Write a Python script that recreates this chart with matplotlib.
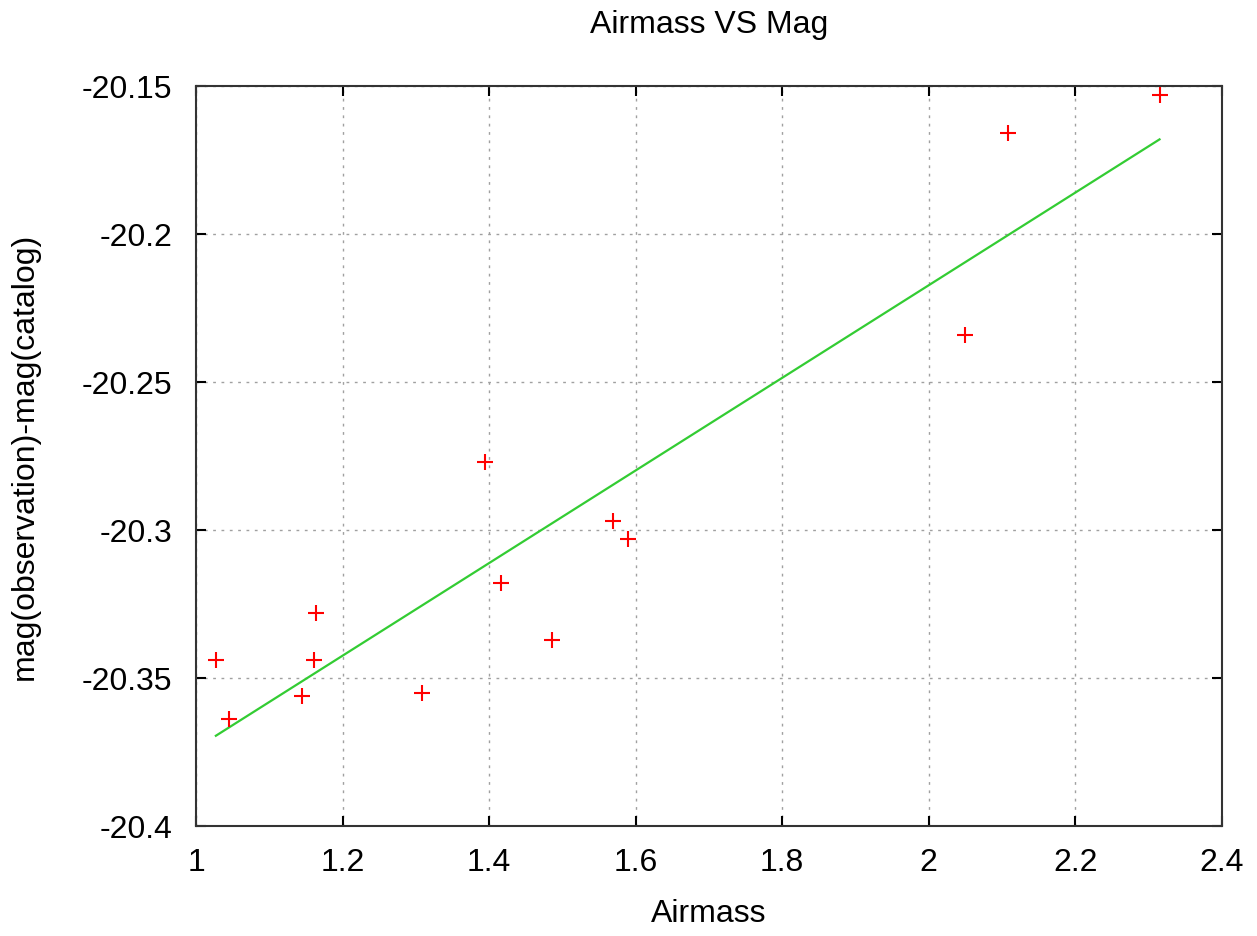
import matplotlib
matplotlib.use("Agg")
import matplotlib.pyplot as plt
from matplotlib.ticker import FuncFormatter

# observed points (airmass, mag difference)
airmass = [1.027, 1.045, 1.145, 1.161, 1.164, 1.309, 1.394, 1.416,
           1.486, 1.569, 1.589, 2.049, 2.108, 2.315]
mag_diff = [-20.344, -20.364, -20.356, -20.344, -20.328, -20.355, -20.277, -20.318,
            -20.337, -20.297, -20.303, -20.234, -20.166, -20.153]

# linear fit drawn across the data range
fit_x = [1.027, 2.315]
fit_y = [-20.3695, -20.168]

x_ticks = [1, 1.2, 1.4, 1.6, 1.8, 2, 2.2, 2.4]
y_ticks = [-20.4, -20.35, -20.3, -20.25, -20.2, -20.15]

plt.rcParams['font.family'] = ['Liberation Sans', 'DejaVu Sans']

fig = plt.figure(figsize=(12.57, 9.36), dpi=100)
ax = fig.add_axes([0.156, 0.1175, 0.816, 0.7905])

ax.plot(airmass, mag_diff, linestyle='none', marker='+', color='#ff0000',
        markersize=12, markeredgewidth=1.5, zorder=3)
ax.plot(fit_x, fit_y, color='#33cc33', linewidth=1.6, zorder=2)

ax.set_xlim(1, 2.4)
ax.set_ylim(-20.4, -20.15)
ax.set_xticks(x_ticks)
ax.set_yticks(y_ticks)
fmt = FuncFormatter(lambda v, p: '%g' % round(v, 4))
ax.xaxis.set_major_formatter(fmt)
ax.yaxis.set_major_formatter(fmt)

ax.grid(True, color='#a0a0a0', linestyle=(0, (2, 4)), linewidth=1.0)
ax.tick_params(direction='in', length=7, width=1.5, top=True, right=True,
               labelsize=23, colors='#000000')
ax.tick_params(axis='y', pad=17)
ax.tick_params(axis='x', pad=16)
for s in ax.spines.values():
    s.set_linewidth(1.5)
    s.set_color('#333333')

ax.set_title('Airmass VS Mag', fontsize=23, pad=38)
ax.set_xlabel('Airmass', fontsize=23, labelpad=15)
ax.set_ylabel('mag(observation)-mag(catalog)', fontsize=23, labelpad=30)

fig.savefig('out.png', dpi=100)
